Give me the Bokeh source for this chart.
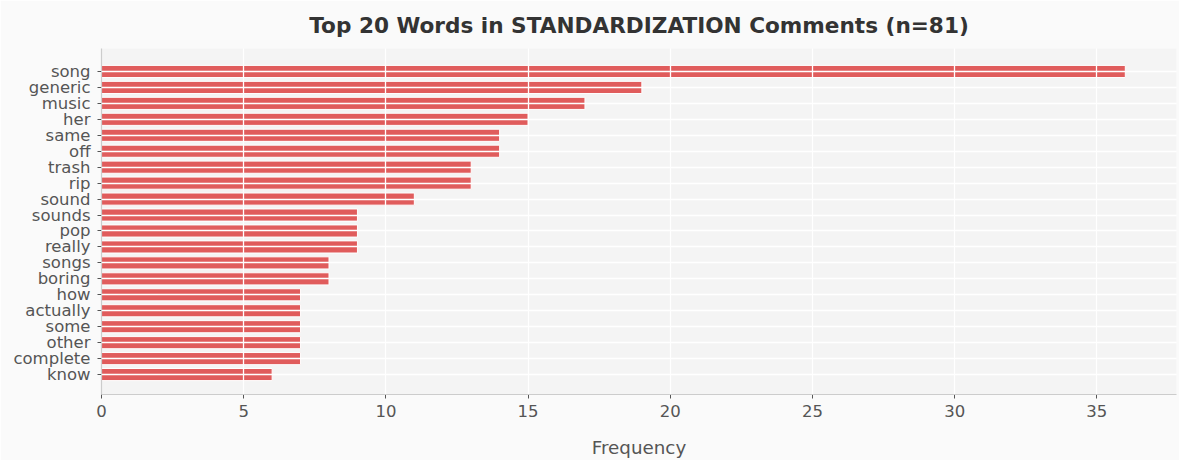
from bokeh.plotting import figure
from bokeh.models import ColumnDataSource, Range1d, FixedTicker
from bokeh.embed import file_html
from bokeh.resources import INLINE

words = ["song", "generic", "music", "her", "same", "off", "trash", "rip", "sound", "sounds",
         "pop", "really", "songs", "boring", "how", "actually", "some", "other", "complete", "know"]
counts = [36, 19, 17, 15, 14, 14, 13, 13, 11, 9, 9, 9, 8, 8, 7, 7, 7, 7, 7, 6]
title_text = "Top 20 Words in STANDARDIZATION Comments (n=81)"

pos = list(range(len(words)))
src = ColumnDataSource(dict(y=pos, right=counts, word=words))

FONT = "DejaVu Sans"
p = figure(width=1179, height=460, output_backend="svg", toolbar_location=None,
           x_range=Range1d(0, 37.8), y_range=Range1d(len(words) - 1 + 1.25, -1.44),
           min_border_left=101, min_border_right=3, min_border_top=48, min_border_bottom=66,
           background_fill_color="#f4f4f4", border_fill_color="#fafafa", outline_line_color=None)

p.hbar(y="y", left=0, right="right", height=0.76, source=src,
       fill_color="#e05c5c", line_color="white", line_width=1)

p.title.text = title_text
p.title.align = "center"
p.title.text_font = FONT
p.title.text_font_size = "21.6px"
p.title.text_font_style = "bold"
p.title.text_color = "#333333"
p.title.standoff = 17
p.title.vertical_align = "top"

p.yaxis.ticker = FixedTicker(ticks=pos)
p.yaxis.major_label_overrides = {i: w for i, w in zip(pos, words)}
p.xaxis.ticker = FixedTicker(ticks=[0, 5, 10, 15, 20, 25, 30, 35])
p.xaxis.axis_label = "Frequency"

for ax in (p.xaxis, p.yaxis):
    ax.major_label_text_font = FONT
    ax.major_label_text_font_size = "16.5px"
    ax.major_label_text_color = "#555555"
    ax.axis_label_text_font = FONT
    ax.axis_label_text_font_size = "18.3px"
    ax.axis_label_text_font_style = "normal"
    ax.axis_label_text_color = "#555555"
    ax.minor_tick_line_color = None
    ax.major_tick_line_color = "#555555"
    ax.major_tick_in = 0
    ax.major_tick_out = 4
    ax.axis_line_color = "#cccccc"
    ax.axis_line_width = 1.2

p.xaxis.major_label_standoff = 6
p.yaxis.major_label_standoff = 7
p.xaxis.axis_label_standoff = 17

for g in (p.xgrid, p.ygrid):
    g.grid_line_color = "white"
    g.grid_line_width = 1.3
    g.level = "overlay"

open("out.html", "w").write(file_html(p, INLINE))
